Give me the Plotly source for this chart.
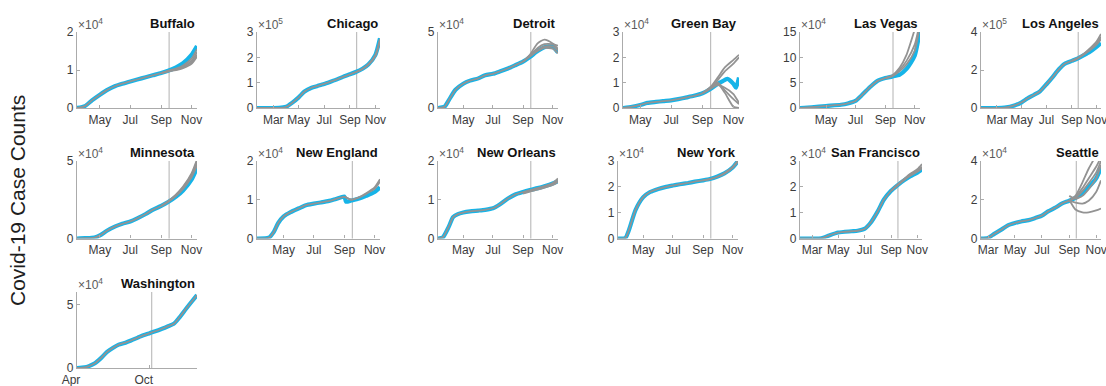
import plotly.graph_objects as go

# ---------------------------------------------------------------------------
# Cumulative case counts (blue) and ensemble forecast runs (grey) per region
# ---------------------------------------------------------------------------
CITIES = ["Buffalo", "Chicago", "Detroit", "Green Bay", "Las Vegas", "Los Angeles",
          "Minnesota", "New England", "New Orleans", "New York", "San Francisco", "Seattle",
          "Washington"]

# exponent shown above each y axis, and tick labels in units of 10^exp
Y_EXP = [4, 5, 4, 4, 4, 5, 4, 4, 4, 4, 4, 4, 4]
Y_TICKS = [[0, 1, 2], [0, 1, 2, 3], [0, 5], [0, 1, 2, 3], [0, 5, 10, 15], [0, 2, 4],
           [0, 5], [0, 1, 2], [0, 1, 2], [0, 1, 2, 3], [0, 1, 2, 3], [0, 2, 4],
           [0, 5]]
Y_MAX = [2e4, 3e5, 5e4, 3e4, 15e4, 4e5, 5e4, 2e4, 2e4, 3e4, 3e4, 4e4, 6e4]

MONTH_TICKS = ["2020-03-01", "2020-05-01", "2020-07-01", "2020-09-01", "2020-11-01"]
WASHINGTON_TICKS = ["2020-04-01", "2020-10-01"]

FORECAST_DATE = "2020-09-17"
WASHINGTON_FORECAST_DATE = "2020-10-06"

# dates of the ensemble runs (shared by all regions except Washington)
RUN_DATES = ["2020-09-01", "2020-09-15", "2020-10-01", "2020-10-15", "2020-11-01", "2020-11-12"]

BUFFALO_DATES = ["2020-03-16", "2020-04-01", "2020-04-15", "2020-05-01", "2020-05-15", "2020-06-01",
                 "2020-06-15", "2020-07-01", "2020-07-15", "2020-08-01", "2020-08-15", "2020-09-01",
                 "2020-09-15", "2020-10-01", "2020-10-15", "2020-11-01", "2020-11-12"]
BUFFALO_CASES = [0, 500, 2000, 3500, 4700, 5800, 6400, 7000, 7500, 8100, 8600, 9200,
                 9800, 10700, 11800, 14000, 16300]
BUFFALO_RUNS = [[9200, 9800, 10400, 11200, 13000, 15500],
                [9200, 9700, 10200, 10900, 12400, 14700],
                [9200, 9700, 10100, 10700, 12000, 14000],
                [9200, 9600, 10000, 10500, 11600, 13500]]

CHICAGO_DATES = ["2020-01-22", "2020-02-15", "2020-03-15", "2020-04-01", "2020-04-15", "2020-05-01",
                 "2020-05-15", "2020-06-01", "2020-06-15", "2020-07-01", "2020-07-15", "2020-08-01",
                 "2020-08-15", "2020-09-01", "2020-09-15", "2020-10-01", "2020-10-15", "2020-11-01",
                 "2020-11-12"]
CHICAGO_CASES = [0, 0, 300, 5000, 20000, 42000, 65000, 80000, 87000, 95000, 103000, 113000,
                 123000, 133000, 142000, 155000, 172000, 210000, 275000]
CHICAGO_RUNS = [[133000, 142000, 155000, 173000, 210000, 272000],
                [133000, 141000, 154000, 170000, 205000, 265000]]

DETROIT_DATES = ["2020-03-10", "2020-03-24", "2020-04-01", "2020-04-15", "2020-05-01", "2020-05-15",
                 "2020-06-01", "2020-06-15", "2020-07-01", "2020-07-15", "2020-08-01", "2020-08-15",
                 "2020-09-01", "2020-09-15", "2020-10-01", "2020-10-15", "2020-11-01", "2020-11-12"]
DETROIT_CASES = [0, 1000, 5000, 12000, 16000, 18000, 19500, 21500, 22500, 24000, 26000, 28000,
                 30500, 33500, 37500, 40000, 40500, 36500]
DETROIT_RUNS = [[30500, 35000, 42500, 45000, 42500, 39000],
                [30500, 34500, 39500, 42000, 42000, 41000],
                [30500, 34000, 38000, 40500, 40500, 38000],
                [30500, 33800, 37500, 39500, 39000, 36000]]

GREEN_BAY_DATES = ["2020-03-28", "2020-04-15", "2020-05-01", "2020-05-15", "2020-06-01", "2020-06-15",
                   "2020-07-01", "2020-07-15", "2020-08-01", "2020-08-15", "2020-09-01", "2020-09-15",
                   "2020-10-01", "2020-10-10", "2020-10-20", "2020-11-01", "2020-11-06", "2020-11-12"]
GREEN_BAY_CASES = [0, 500, 1200, 2000, 2400, 2700, 3000, 3500, 4200, 4800, 5800, 7300,
                   9500, 10500, 11500, 9500, 8000, 12000]
GREEN_BAY_RUNS = [[5800, 7800, 12000, 16000, 19000, 21000],
                  [5800, 7600, 11000, 14500, 17500, 20000],
                  [5800, 8000, 10000, 7000, 3500, 1500],
                  [5800, 7500, 9500, 6000, 500, 0],
                  [5800, 7400, 9000, 8000, 5500, 2000]]

LAS_VEGAS_DATES = ["2020-03-08", "2020-04-01", "2020-05-01", "2020-06-01", "2020-06-15", "2020-07-01",
                   "2020-07-15", "2020-08-01", "2020-08-15", "2020-09-01", "2020-09-15", "2020-10-01",
                   "2020-10-15", "2020-11-01", "2020-11-12"]
LAS_VEGAS_CASES = [0, 1500, 4000, 6500, 9000, 14000, 26000, 42000, 53000, 59000, 62000, 66000,
                   77000, 103000, 155000]
LAS_VEGAS_RUNS = [[59000, 64000, 80000, 105000, 155000, 190000],
                  [59000, 63000, 76000, 93000, 125000, 170000],
                  [59000, 62500, 73000, 86000, 113000, 165000]]

LOS_ANGELES_DATES = ["2020-01-22", "2020-03-01", "2020-03-20", "2020-04-15", "2020-05-01", "2020-05-15",
                     "2020-06-01", "2020-06-15", "2020-07-01", "2020-07-15", "2020-08-01", "2020-08-15",
                     "2020-09-01", "2020-09-15", "2020-10-01", "2020-10-15", "2020-11-01", "2020-11-12"]
LOS_ANGELES_CASES = [0, 0, 2000, 15000, 30000, 50000, 70000, 88000, 125000, 160000, 205000, 233000,
                     248000, 260000, 278000, 295000, 322000, 342000]
LOS_ANGELES_RUNS = [[248000, 262000, 286000, 312000, 350000, 390000],
                    [248000, 261000, 283000, 306000, 340000, 375000],
                    [248000, 260000, 281000, 302000, 333000, 362000]]

MINNESOTA_DATES = ["2020-03-16", "2020-04-01", "2020-04-20", "2020-05-01", "2020-05-15", "2020-06-01",
                   "2020-06-15", "2020-07-01", "2020-07-15", "2020-08-01", "2020-08-15", "2020-09-01",
                   "2020-09-15", "2020-10-01", "2020-10-15", "2020-11-01", "2020-11-12"]
MINNESOTA_CASES = [0, 200, 600, 2000, 5000, 7800, 9500, 11000, 13000, 15800, 18500, 21000,
                   23500, 27000, 31000, 38000, 45500]
MINNESOTA_RUNS = [[21000, 24000, 28500, 33500, 42000, 51000],
                  [21000, 23800, 28000, 33000, 41000, 49500],
                  [21000, 23700, 27800, 32500, 40000, 48000],
                  [21000, 23600, 27500, 32000, 39500, 47000]]

NEW_ENGLAND_DATES = ["2020-03-08", "2020-04-01", "2020-04-10", "2020-04-20", "2020-05-01", "2020-05-15",
                     "2020-06-01", "2020-06-15", "2020-07-01", "2020-07-15", "2020-08-01", "2020-08-15",
                     "2020-09-01", "2020-09-04", "2020-09-15", "2020-10-01", "2020-10-15", "2020-11-01",
                     "2020-11-12"]
NEW_ENGLAND_CASES = [0, 200, 1500, 4000, 5700, 6800, 7800, 8600, 9000, 9300, 9700, 10200,
                     10800, 9500, 9800, 10300, 11000, 12000, 13200]
NEW_ENGLAND_RUNS = [[10800, 10000, 10700, 11700, 13200, 15300],
                    [10800, 10000, 10600, 11500, 12800, 14700]]

NEW_ORLEANS_DATES = ["2020-03-10", "2020-03-20", "2020-04-01", "2020-04-10", "2020-04-20", "2020-05-01",
                     "2020-05-15", "2020-06-01", "2020-06-15", "2020-07-01", "2020-07-15", "2020-08-01",
                     "2020-08-15", "2020-09-01", "2020-09-15", "2020-10-01", "2020-10-15", "2020-11-01",
                     "2020-11-12"]
NEW_ORLEANS_CASES = [0, 300, 3000, 5500, 6300, 6700, 7000, 7200, 7400, 7800, 8800, 10300,
                     11300, 12000, 12500, 13000, 13500, 14200, 14800]
NEW_ORLEANS_RUNS = [[12000, 12500, 13000, 13500, 14300, 15500],
                    [11800, 12300, 12800, 13300, 14000, 15000],
                    [11600, 12100, 12600, 13100, 13800, 14600]]

NEW_YORK_DATES = ["2020-03-10", "2020-03-25", "2020-04-01", "2020-04-15", "2020-05-01", "2020-05-15",
                  "2020-06-01", "2020-06-15", "2020-07-01", "2020-07-15", "2020-08-01", "2020-08-15",
                  "2020-09-01", "2020-09-15", "2020-10-01", "2020-10-15", "2020-11-01", "2020-11-12"]
NEW_YORK_CASES = [0, 200, 3000, 11000, 16000, 18000, 19200, 19900, 20500, 21000, 21500, 22000,
                  22500, 23000, 24000, 25200, 27500, 30000]
NEW_YORK_RUNS = [[22500, 23000, 24000, 25300, 27700, 30300],
                 [22500, 23000, 23900, 25100, 27400, 29800]]

SAN_FRANCISCO_DATES = ["2020-02-02", "2020-03-01", "2020-03-23", "2020-04-10", "2020-05-01", "2020-06-01",
                       "2020-06-15", "2020-07-01", "2020-07-15", "2020-08-01", "2020-08-15", "2020-09-01",
                       "2020-09-15", "2020-10-01", "2020-10-15", "2020-11-01", "2020-11-12"]
SAN_FRANCISCO_CASES = [0, 0, 100, 1200, 2300, 2800, 3000, 3700, 6000, 10500, 15000, 18500,
                       20500, 22500, 24000, 25500, 26800]
SAN_FRANCISCO_RUNS = [[18500, 20700, 23000, 25000, 26800, 28800],
                      [18500, 20500, 22800, 24600, 26200, 27800],
                      [18500, 20400, 22500, 24200, 25800, 27200]]

SEATTLE_DATES = ["2020-02-14", "2020-03-01", "2020-03-15", "2020-04-01", "2020-04-15", "2020-05-01",
                 "2020-05-15", "2020-06-01", "2020-06-15", "2020-07-01", "2020-07-15", "2020-08-01",
                 "2020-08-15", "2020-09-01", "2020-09-15", "2020-10-01", "2020-10-15", "2020-11-01",
                 "2020-11-12"]
SEATTLE_CASES = [0, 300, 2400, 4700, 6800, 8000, 8800, 9500, 10500, 11800, 14000, 16000,
                 18000, 19500, 21000, 23500, 26500, 31000, 36500]
SEATTLE_RUNS = [[19500, 22000, 29000, 36000, 43000, 48000],
                [19500, 21500, 26000, 31000, 37000, 42000],
                [19500, 21000, 24500, 28500, 34000, 40000],
                [20000, 15000, 13500, 13500, 14500, 15500],
                [19500, 18500, 18000, 19500, 24000, 30000],
                [22000, 20500, 22000, 25500, 31000, 38000]]

WASHINGTON_DATES = ["2020-04-01", "2020-04-20", "2020-05-01", "2020-05-15", "2020-06-01", "2020-06-15",
                    "2020-07-01", "2020-07-15", "2020-08-01", "2020-08-15", "2020-09-01", "2020-09-15",
                    "2020-10-01", "2020-10-15", "2020-11-01", "2020-11-15", "2020-12-01", "2020-12-15",
                    "2021-01-01", "2021-01-15", "2021-01-28"]
WASHINGTON_CASES = [0, 500, 1500, 3500, 8000, 12500, 16000, 18500, 20000, 21700, 24000, 25800,
                    27500, 29000, 31000, 32800, 35000, 40000, 47000, 52500, 57500]
WASHINGTON_RUNS = []

ALL_DATES = [BUFFALO_DATES, CHICAGO_DATES, DETROIT_DATES, GREEN_BAY_DATES, LAS_VEGAS_DATES,
             LOS_ANGELES_DATES, MINNESOTA_DATES, NEW_ENGLAND_DATES, NEW_ORLEANS_DATES,
             NEW_YORK_DATES, SAN_FRANCISCO_DATES, SEATTLE_DATES, WASHINGTON_DATES]
ALL_CASES = [BUFFALO_CASES, CHICAGO_CASES, DETROIT_CASES, GREEN_BAY_CASES, LAS_VEGAS_CASES,
             LOS_ANGELES_CASES, MINNESOTA_CASES, NEW_ENGLAND_CASES, NEW_ORLEANS_CASES,
             NEW_YORK_CASES, SAN_FRANCISCO_CASES, SEATTLE_CASES, WASHINGTON_CASES]
ALL_RUNS = [BUFFALO_RUNS, CHICAGO_RUNS, DETROIT_RUNS, GREEN_BAY_RUNS, LAS_VEGAS_RUNS,
            LOS_ANGELES_RUNS, MINNESOTA_RUNS, NEW_ENGLAND_RUNS, NEW_ORLEANS_RUNS,
            NEW_YORK_RUNS, SAN_FRANCISCO_RUNS, SEATTLE_RUNS, WASHINGTON_RUNS]

# ---------------------------------------------------------------------------
# Layout: panel boxes in pixels (left, right, top, bottom)
# ---------------------------------------------------------------------------
W, H = 1106, 386
ROW_Y = [(32, 108), (161, 238.5), (292, 368)]
PANEL_BOX = [
    (77, 197, *ROW_Y[0]), (257, 380, *ROW_Y[0]), (438, 558, *ROW_Y[0]),
    (623, 739, *ROW_Y[0]), (800, 920, *ROW_Y[0]), (981, 1101, *ROW_Y[0]),
    (77, 197, *ROW_Y[1]), (257, 380, *ROW_Y[1]), (438, 558, *ROW_Y[1]),
    (618, 738, *ROW_Y[1]), (800, 922, *ROW_Y[1]), (981, 1101, *ROW_Y[1]),
    (77, 197, *ROW_Y[2]),
]

BLUE = "#16b4e8"
GREY = "#939393"
AXIS_GREY = "#ababab"
TICK_TEXT = "#3c3c3c"
FONT = "Liberation Sans, Arial, Helvetica, sans-serif"

fig = go.Figure()
layout = dict(
    template="none",
    width=W, height=H, autosize=False,
    margin=dict(l=0, r=0, t=0, b=0, pad=0),
    paper_bgcolor="white", plot_bgcolor="white",
    showlegend=False,
    font=dict(family=FONT, size=12, color=TICK_TEXT),
)
annotations = []
shapes = []

for i, city in enumerate(CITIES):
    n = i + 1
    sfx = "" if n == 1 else str(n)
    xref, yref = "x" + sfx, "y" + sfx
    dates, cases, runs = ALL_DATES[i], ALL_CASES[i], ALL_RUNS[i]
    is_wa = city == "Washington"
    left, right, top, bottom = PANEL_BOX[i]

    # observed counts
    fig.add_trace(go.Scatter(
        x=dates, y=cases, mode="lines", xaxis=xref, yaxis=yref, hoverinfo="skip",
        line=dict(color=BLUE, width=4.2, shape="spline", smoothing=0.6)))

    # model fit over the observed period
    if runs:
        fit_x = [d for d in dates if d <= RUN_DATES[0]]
    else:
        fit_x = list(dates)
    fit_y = cases[:len(fit_x)]
    fig.add_trace(go.Scatter(
        x=fit_x, y=fit_y, mode="lines", xaxis=xref, yaxis=yref, hoverinfo="skip",
        line=dict(color=GREY, width=1.8, shape="spline", smoothing=0.6)))

    # ensemble forecast runs
    for run in runs:
        fig.add_trace(go.Scatter(
            x=RUN_DATES, y=run, mode="lines", xaxis=xref, yaxis=yref, hoverinfo="skip",
            line=dict(color=GREY, width=1.8, shape="spline", smoothing=0.6)))

    ticks = Y_TICKS[i]
    scale = 10 ** Y_EXP[i]
    xaxis = dict(
        domain=[left / W, right / W], anchor=yref, automargin=False,
        range=[dates[0], dates[-1]], type="date",
        tickvals=WASHINGTON_TICKS if is_wa else MONTH_TICKS, tickformat="%b",
        ticklabeloverflow="allow",
        showline=True, linecolor=AXIS_GREY, linewidth=1.3, mirror=False,
        ticks="inside", ticklen=3, tickwidth=1, tickcolor=AXIS_GREY,
        tickfont=dict(size=12, color=TICK_TEXT, family=FONT),
        showgrid=False, zeroline=False, fixedrange=True,
    )
    if is_wa:
        xaxis["ticklabelshift"] = -6
    yaxis = dict(
        domain=[1 - bottom / H, 1 - top / H], anchor=xref, automargin=False,
        range=[0, Y_MAX[i]],
        tickvals=[t * scale for t in ticks], ticktext=[str(t) for t in ticks],
        showline=True, linecolor=AXIS_GREY, linewidth=1.3, mirror=False,
        ticks="inside", ticklen=3, tickwidth=1, tickcolor=AXIS_GREY,
        tickfont=dict(size=12, color=TICK_TEXT, family=FONT),
        showgrid=False, zeroline=False, fixedrange=True,
    )
    layout["xaxis" + sfx] = xaxis
    layout["yaxis" + sfx] = yaxis

    # forecast-date marker
    shapes.append(dict(
        type="line", xref=xref, yref=yref + " domain",
        x0=WASHINGTON_FORECAST_DATE if is_wa else FORECAST_DATE,
        x1=WASHINGTON_FORECAST_DATE if is_wa else FORECAST_DATE,
        y0=0, y1=1, line=dict(color="#b9b9b9", width=1.1), layer="below"))

    # exponent label
    annotations.append(dict(
        xref=xref + " domain", yref=yref + " domain", x=0, y=1,
        xanchor="left", yanchor="bottom", yshift=-2, xshift=-1,
        text="\u00d710<sup>%d</sup>" % Y_EXP[i], showarrow=False,
        font=dict(size=12, color="#5a5a5a", family=FONT)))

    # region title
    annotations.append(dict(
        xref=xref + " domain", yref=yref + " domain", x=1, y=1,
        xanchor="right", yanchor="bottom", yshift=-1,
        text="<b>%s</b>" % city, showarrow=False,
        font=dict(size=13, color="#111111", family=FONT)))

annotations.append(dict(
    xref="paper", yref="paper", x=18 / W, y=1 - 201 / H,
    xanchor="center", yanchor="middle", textangle=-90,
    text="Covid-19 Case Counts", showarrow=False,
    font=dict(size=21, color="#1e1e1e", family=FONT)))

layout["annotations"] = annotations
layout["shapes"] = shapes
fig.update_layout(**layout)

fig.write_html("out.html")
